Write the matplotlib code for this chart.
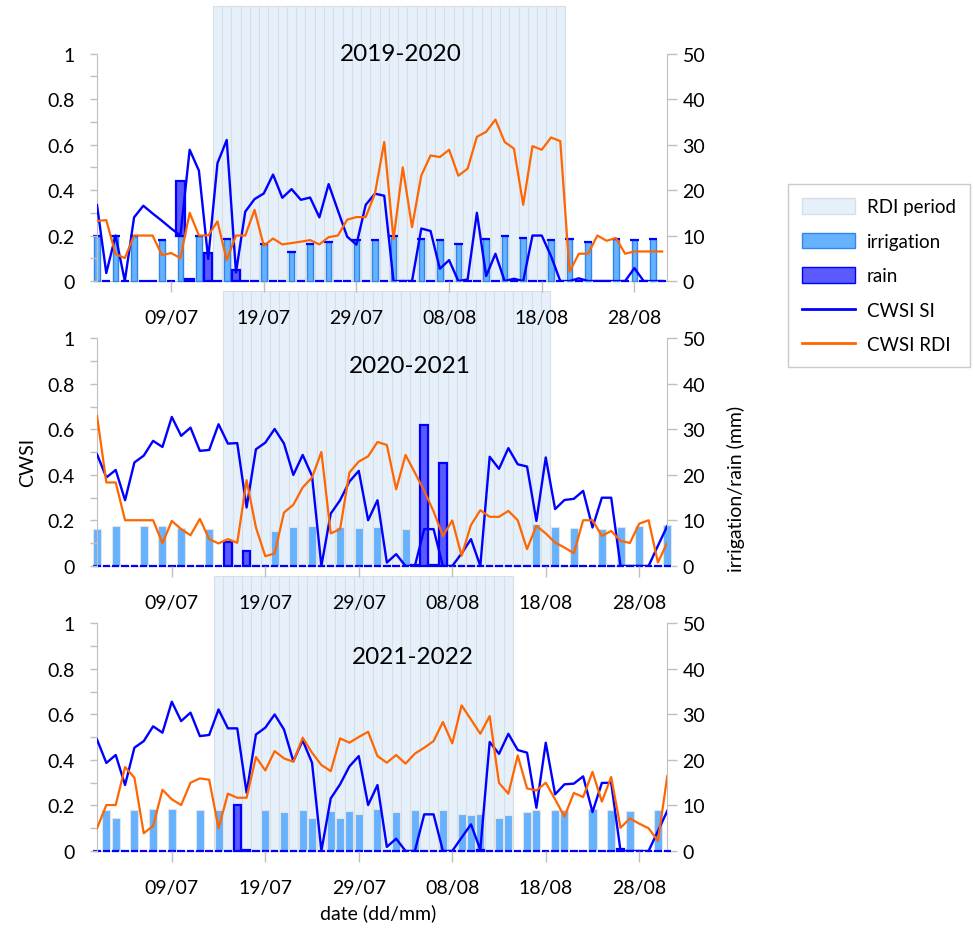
import matplotlib
matplotlib.use("Agg")
import matplotlib.pyplot as plt
import matplotlib.dates as mdates
from matplotlib.patches import Patch
from matplotlib.lines import Line2D
import numpy as np
import pandas as pd

plt.rcParams['font.family'] = ['Lato', 'DejaVu Sans']

YEAR = '2020'
dates = pd.date_range(f'{YEAR}-07-01', f'{YEAR}-08-31')
tick_dates = pd.date_range(f'{YEAR}-07-09', periods=6, freq='10D')


def dm(days):
    # 'dd/mm' strings -> timestamps
    return pd.to_datetime([d + '/' + YEAR for d in days], format='%d/%m/%Y')


seasons = ['2019-2020', '2020-2021', '2021-2022']

# RDI period (first and last day)
rdi_start = ['14/07', '15/07', '14/07']
rdi_end = ['20/08', '18/08', '14/08']

# CWSI, one value per day from 01/07 to 31/08
cwsi_si_1 = [0.334, 0.035, 0.20, 0.0, 0.28, 0.331, 0.297, 0.265, 0.231, 0.20,
             0.577, 0.485, 0.097, 0.518, 0.62, 0.038, 0.305, 0.36, 0.385, 0.468,
             0.366, 0.404, 0.357, 0.367, 0.28, 0.426, 0.31, 0.195, 0.16, 0.335,
             0.384, 0.375, 0.0, 0.0, 0.0, 0.231, 0.22, 0.054, 0.092, 0.0,
             0.007, 0.30, 0.022, 0.12, 0.0, 0.01, 0.0, 0.2, 0.2, 0.11,
             0.0, 0.0, 0.012, 0.0, 0.0, 0.0, 0.0, 0.0, 0.057, 0.0,
             0.0, 0.0]
cwsi_rdi_1 = [0.264, 0.268, 0.119, 0.101, 0.2, 0.2, 0.2, 0.114, 0.123, 0.101,
              0.30, 0.2, 0.2, 0.262, 0.092, 0.2, 0.2, 0.313, 0.155, 0.187,
              0.161, 0.167, 0.173, 0.18, 0.161, 0.193, 0.2, 0.27, 0.281, 0.281,
              0.385, 0.611, 0.183, 0.50, 0.237, 0.464, 0.552, 0.545, 0.577, 0.463,
              0.494, 0.634, 0.656, 0.71, 0.611, 0.582, 0.335, 0.593, 0.577, 0.631,
              0.615, 0.041, 0.12, 0.12, 0.2, 0.177, 0.189, 0.12, 0.13, 0.13,
              0.13, 0.13]

cwsi_si_2 = [0.491, 0.389, 0.422, 0.289, 0.455, 0.485, 0.55, 0.523, 0.655, 0.572,
             0.608, 0.506, 0.51, 0.623, 0.538, 0.54, 0.257, 0.513, 0.542, 0.602,
             0.538, 0.40, 0.488, 0.396, 0.0, 0.23, 0.289, 0.371, 0.418, 0.201,
             0.289, 0.015, 0.052, 0.0, 0.0, 0.162, 0.162, 0.0, 0.0, 0.055,
             0.118, 0.0, 0.48, 0.427, 0.518, 0.447, 0.437, 0.198, 0.477, 0.25,
             0.29, 0.295, 0.33, 0.169, 0.30, 0.30, 0.0, 0.0, 0.0, 0.0,
             0.089, 0.176]
cwsi_rdi_2 = [0.66, 0.367, 0.367, 0.201, 0.201, 0.201, 0.201, 0.10, 0.198, 0.162,
              0.135, 0.207, 0.118, 0.099, 0.118, 0.102, 0.377, 0.169, 0.043, 0.055,
              0.235, 0.269, 0.345, 0.389, 0.501, 0.143, 0.162, 0.411, 0.459, 0.482,
              0.545, 0.532, 0.337, 0.488, 0.41, 0.33, 0.24, 0.132, 0.2, 0.045,
              0.18, 0.245, 0.216, 0.216, 0.242, 0.201, 0.074, 0.176, 0.143, 0.103,
              0.081, 0.056, 0.201, 0.201, 0.132, 0.154, 0.11, 0.101, 0.186, 0.201,
              0.015, 0.103]

cwsi_si_3 = [0.49, 0.387, 0.422, 0.29, 0.454, 0.483, 0.548, 0.52, 0.656, 0.571,
             0.608, 0.505, 0.51, 0.622, 0.539, 0.539, 0.256, 0.512, 0.542, 0.60,
             0.534, 0.395, 0.486, 0.388, 0.0, 0.231, 0.293, 0.372, 0.417, 0.202,
             0.29, 0.018, 0.054, 0.0, 0.0, 0.161, 0.161, 0.0, 0.0, 0.059,
             0.117, 0.006, 0.479, 0.427, 0.515, 0.444, 0.432, 0.19, 0.476, 0.249,
             0.293, 0.296, 0.328, 0.171, 0.299, 0.30, 0.0, 0.0, 0.0, 0.0,
             0.088, 0.176]
cwsi_rdi_3 = [0.1, 0.202, 0.202, 0.369, 0.322, 0.078, 0.11, 0.269, 0.227, 0.202,
              0.30, 0.319, 0.313, 0.10, 0.252, 0.234, 0.234, 0.413, 0.354, 0.439,
              0.407, 0.392, 0.498, 0.432, 0.378, 0.351, 0.495, 0.476, 0.501, 0.524,
              0.417, 0.388, 0.422, 0.384, 0.428, 0.454, 0.483, 0.567, 0.473, 0.64,
              0.578, 0.515, 0.593, 0.299, 0.252, 0.42, 0.275, 0.266, 0.30, 0.227,
              0.151, 0.255, 0.237, 0.348, 0.217, 0.325, 0.102, 0.143, 0.12, 0.10,
              0.044, 0.329]

# irrigation events (mm)
irr_days_1 = ['01/07', '03/07', '05/07', '08/07', '10/07', '12/07', '15/07', '19/07',
              '22/07', '24/07', '26/07', '29/07', '31/07', '02/08', '05/08', '07/08',
              '09/08', '12/08', '14/08', '16/08', '19/08', '21/08', '23/08', '26/08',
              '28/08', '30/08']
irr_mm_1 = [10, 10, 10, 9.1, 10, 10, 9.3, 8.2, 6.4, 8.2, 8.5, 9.1, 9.1, 9.9, 9.3, 9.0,
            8.2, 9.3, 10, 9.4, 9.0, 9.3, 8.5, 9.3, 9.0, 9.3]
irr_days_2 = ['01/07', '03/07', '06/07', '08/07', '10/07', '13/07', '20/07', '22/07',
              '24/07', '27/07', '29/07', '31/07', '03/08', '17/08', '19/08', '21/08',
              '24/08', '26/08', '28/08', '31/08']
irr_mm_2 = [8.1, 8.7, 8.8, 8.7, 8.3, 8.1, 7.6, 8.6, 8.8, 8.5, 8.3, 8.5, 8.1, 9.3, 8.6,
            8.3, 8.1, 8.6, 8.7, 9.0]
irr_days_3 = ['02/07', '03/07', '05/07', '07/07', '09/07', '12/07', '14/07', '19/07',
              '21/07', '23/07', '24/07', '26/07', '27/07', '28/07', '29/07', '31/07',
              '02/08', '04/08', '07/08', '09/08', '10/08', '11/08', '13/08', '14/08',
              '16/08', '17/08', '19/08', '20/08', '23/08', '25/08', '27/08', '30/08']
irr_mm_3 = [8.9, 7.3, 8.9, 9.2, 9.2, 8.9, 9.1, 8.9, 8.6, 9.1, 7.2, 8.8, 7.2, 8.8, 8.1,
            9.2, 8.6, 8.9, 8.9, 8.1, 7.8, 8.1, 7.2, 7.8, 8.6, 9.0, 9.0, 9.0, 9.2, 9.0,
            8.8, 9.0]

# rain events (mm)
rain_days_1 = ['10/07', '11/07', '13/07', '16/07']
rain_mm_1 = [12, 0.4, 6.1, 2.5]
rain_days_2 = ['15/07', '17/07', '04/08', '05/08', '06/08', '07/08']
rain_mm_2 = [5.3, 3.3, 0.3, 31, 0.3, 22.7]
rain_days_3 = ['16/07', '17/07', '11/08', '26/08']
rain_mm_3 = [10, 0.3, 0.3, 0.5]

si_all = [cwsi_si_1, cwsi_si_2, cwsi_si_3]
rdi_all = [cwsi_rdi_1, cwsi_rdi_2, cwsi_rdi_3]
irr_all = [(irr_days_1, irr_mm_1), (irr_days_2, irr_mm_2), (irr_days_3, irr_mm_3)]
rain_all = [(rain_days_1, rain_mm_1), (rain_days_2, rain_mm_2), (rain_days_3, rain_mm_3)]

# styling
C_SI = '#0000FF'
C_RDI = '#FF6600'
C_IRR = '#66B2FF'
C_RAIN = '#5A5AFF'
C_SHADE = '#E6F0FB'
C_GRID = '#BFBFBF'
SHADE_TOP = 60.5  # shading columns run past the top of the mm axis

fig = plt.figure(figsize=(9.75, 9.29), dpi=100)
boxes = [(0.0995, 0.6964, 0.5849, 0.2449),
         (0.0995, 0.3897, 0.5849, 0.2449),
         (0.0995, 0.0829, 0.5849, 0.2449)]
title_pos = [(0.533, 1.0), (0.549, 0.88), (0.554, 0.855)]
x_end = [0.55, 0.0, 0.0]  # extra days after 31/08

for i in range(3):
    ax = fig.add_axes(boxes[i])
    ax2 = ax.twinx()
    ax2.set_zorder(10 - 3 * i)
    ax.set_zorder(11 - 3 * i)
    ax.patch.set_visible(False)
    ax2.patch.set_visible(False)

    # RDI period columns
    shade_days = pd.date_range(dm([rdi_start[i]])[0], dm([rdi_end[i]])[0])
    ax2.bar(shade_days, SHADE_TOP, width=1.0, color=C_SHADE, edgecolor='#D9DEE5',
            linewidth=0.8, clip_on=False, zorder=0.5)

    irr = pd.Series(0.0, index=dates)
    irr[dm(irr_all[i][0])] = irr_all[i][1]
    rain = pd.Series(0.0, index=dates)
    rain[dm(rain_all[i][0])] = rain_all[i][1]

    irr_dates = dm(irr_all[i][0])
    if i == 0:
        ax2.bar(irr_dates, irr_all[i][1], width=0.6, color=C_IRR, edgecolor='#2F86EE',
                linewidth=1.0, clip_on=False, zorder=3)
        ax2.bar(dates, rain.values, bottom=irr.values, width=0.9, color=C_RAIN,
                edgecolor='#0000FF', linewidth=1.6, clip_on=False, zorder=4)
    else:
        ax2.bar(irr_dates, irr_all[i][1], width=0.86, color=C_IRR, edgecolor='#E3E3E3',
                linewidth=0.8, clip_on=False, zorder=3)
        ax2.bar(dates, rain.values, width=0.8, color=C_RAIN, edgecolor='#0000FF',
                linewidth=1.6, clip_on=False, zorder=4)

    ax.plot(dates, si_all[i], color=C_SI, lw=1.7, zorder=3)
    ax.plot(dates, rdi_all[i], color=C_RDI, lw=1.6, zorder=4)

    ax.set_ylim(0, 1)
    ax2.set_ylim(0, 50)
    ax.set_xlim(mdates.date2num(dates[0]), mdates.date2num(dates[-1]) + x_end[i])

    ax.set_xticks(tick_dates)
    ax.xaxis.set_major_formatter(mdates.DateFormatter('%d/%m'))
    ax.tick_params(axis='x', direction='out', length=8, width=1, color=C_GRID,
                   labelsize=14, pad=12)

    ax.set_yticks(np.arange(0, 1.01, 0.2))
    ax.set_yticks(np.arange(0.1, 1.0, 0.2), minor=True)
    ax.yaxis.set_major_formatter(plt.FuncFormatter(lambda v, _: f'{v:g}'))
    ax.tick_params(axis='y', which='both', direction='out', length=5.3, width=1,
                   color=C_GRID, labelsize=14, pad=11)

    ax2.set_yticks(np.arange(0, 51, 10))
    ax2.tick_params(axis='y', direction='out', length=7.5, width=1, color=C_GRID,
                    labelsize=14, pad=3.5)

    for s in ['top', 'right', 'bottom']:
        ax.spines[s].set_visible(False)
    for s in ['top', 'left']:
        ax2.spines[s].set_visible(False)
    ax.spines['left'].set_color(C_GRID)
    ax2.spines['right'].set_color(C_GRID)
    ax2.spines['bottom'].set_color(C_GRID)

    ax.text(title_pos[i][0], title_pos[i][1], seasons[i], transform=ax.transAxes,
            ha='center', va='center', fontsize=17.5, zorder=6)

fig.text(0.0287, 0.5027, 'CWSI', rotation=90, ha='center', va='center', fontsize=14)
fig.text(0.755, 0.474, 'irrigation/rain (mm)', rotation=90, ha='center', va='center',
         fontsize=14)
fig.text(0.388, 0.0172, 'date (dd/mm)', ha='center', va='center', fontsize=14)

handles = [Patch(facecolor=C_SHADE, edgecolor='#D9DEE5'),
           Patch(facecolor=C_IRR, edgecolor='#2F86EE'),
           Patch(facecolor=C_RAIN, edgecolor='#0000FF'),
           Line2D([], [], color=C_SI, lw=2),
           Line2D([], [], color=C_RDI, lw=2)]
labels = ['RDI period', 'irrigation', 'rain', 'CWSI SI', 'CWSI RDI']
leg = fig.legend(handles, labels, loc='upper left', bbox_to_anchor=(0.8082, 0.8009),
                 frameon=True, fancybox=False, edgecolor=C_GRID, fontsize=13.5,
                 handlelength=2.83, handleheight=0.9, labelspacing=0.92,
                 handletextpad=0.64, borderpad=0.75, borderaxespad=0)
leg.get_frame().set_linewidth(1.0)

fig.savefig('out.png', dpi=100)
